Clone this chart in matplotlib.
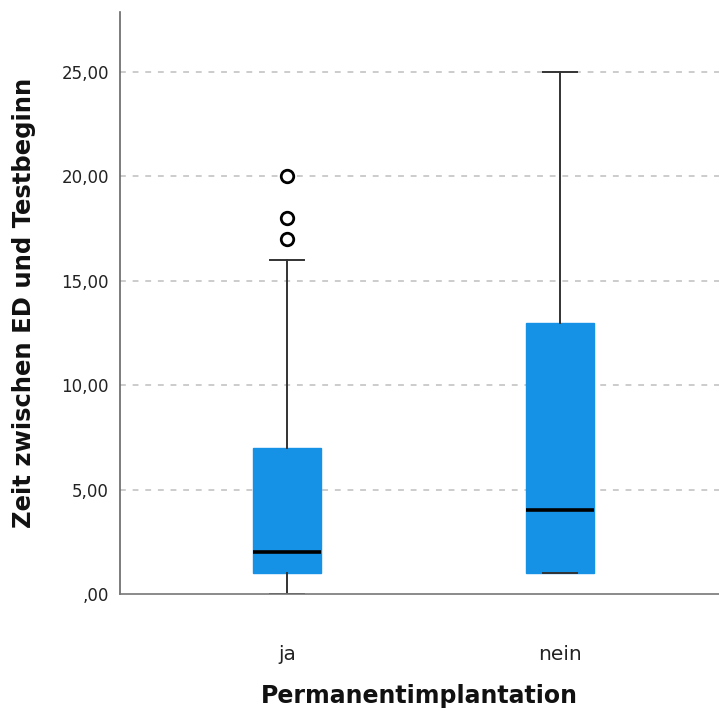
import matplotlib
matplotlib.use("Agg")
import matplotlib.pyplot as plt

# Summary statistics per group
categories = ["ja", "nein"]
whisker_low = [0.0, 1.0]
q1 = [1.0, 1.0]
median = [2.0, 4.0]
q3 = [7.0, 13.0]
whisker_high = [16.0, 25.0]
outliers = [[17.0, 18.0, 20.0], []]

yticks = [0, 5, 10, 15, 20, 25]
ytick_labels = [",00", "5,00", "10,00", "15,00", "20,00", "25,00"]

box_color = "#1591E6"

fig = plt.figure(figsize=(7.19, 7.13), dpi=100)
ax = fig.add_axes([0.1669, 0.1669, 0.8331, 0.8163])

stats = []
for i, name in enumerate(categories):
    stats.append(dict(label=name, whislo=whisker_low[i], q1=q1[i], med=median[i],
                      q3=q3[i], whishi=whisker_high[i], fliers=outliers[i]))

ax.bxp(stats, positions=[0, 1], widths=0.248, patch_artist=True, showfliers=True,
       boxprops=dict(facecolor=box_color, edgecolor=box_color, linewidth=1),
       medianprops=dict(color="black", linewidth=2.6, solid_capstyle="butt"),
       whiskerprops=dict(color="#333333", linewidth=1.4),
       capprops=dict(color="#333333", linewidth=1.4),
       capwidths=0.125,
       flierprops=dict(marker="o", markerfacecolor="white", markeredgecolor="black",
                       markersize=9, markeredgewidth=2))

ax.set_xlim(-0.61, 1.58)
ax.set_ylim(0, 27.87)
ax.set_yticks(yticks)
ax.set_yticklabels(ytick_labels, fontsize=12, color="#222222")
ax.set_xticks([0, 1])
ax.set_xticklabels(categories, fontsize=14.5, color="#222222")
ax.tick_params(axis="y", length=0, pad=8)
ax.tick_params(axis="x", length=0, pad=37)

for y in yticks[1:]:
    ax.axhline(y, color="#cccccc", linestyle=(0, (3, 3.5)), linewidth=1.4, zorder=0)

for s in ["top", "right"]:
    ax.spines[s].set_visible(False)
ax.spines["left"].set_color("#666666")
ax.spines["bottom"].set_color("#777777")
ax.spines["left"].set_linewidth(1.2)
ax.spines["bottom"].set_linewidth(1.2)

ax.set_xlabel("Permanentimplantation", fontsize=17, fontweight="bold", labelpad=14,
              color="#111111")
ax.set_ylabel("Zeit zwischen ED und Testbeginn", fontsize=17.5, fontweight="bold",
              labelpad=18, color="#111111")

fig.savefig("out.png", dpi=100, facecolor="white")
